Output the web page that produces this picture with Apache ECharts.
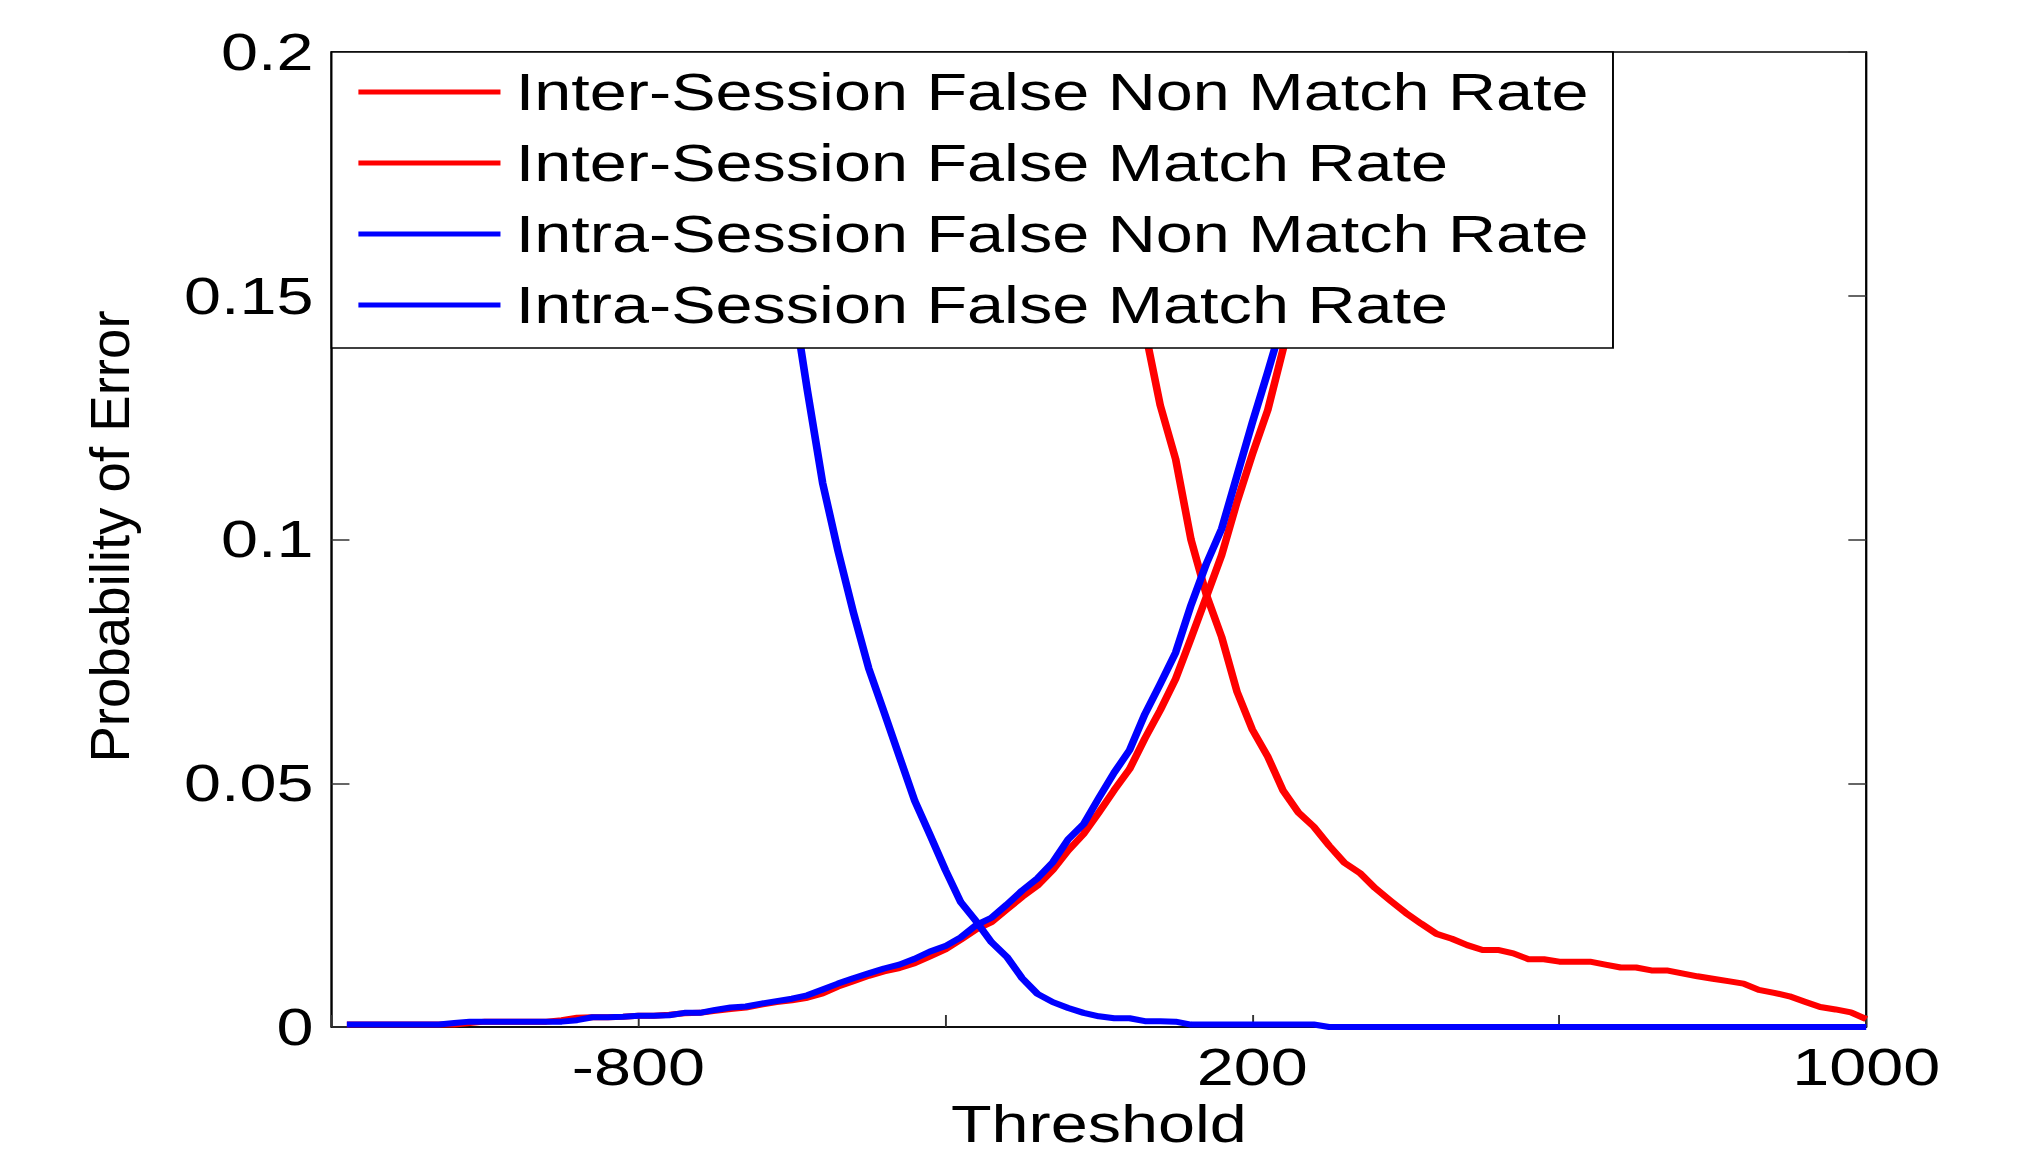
<!DOCTYPE html>
<html>
<head>
<meta charset="utf-8">
<title>Probability of Error vs Threshold</title>
<script src="https://cdn.jsdelivr.net/npm/echarts@6/dist/echarts.min.js"></script>
<style>
html, body { margin: 0; padding: 0; background: #fff; overflow: hidden; }
/* the reference figure is stretched sideways, so the chart is drawn narrow and scaled */
#chart { width: 1581px; height: 1152px; transform: scaleX(1.28); transform-origin: 0 0; }
</style>
</head>
<body>
<div id="chart"></div>
<script>
var thresholds = [
	-1275, -1250, -1225, -1200, -1175, -1150, -1125, -1100, -1075, -1050,
	-1025, -1000, -975, -950, -925, -900, -875, -850, -825, -800,
	-775, -750, -725, -700, -675, -650, -625, -600, -575, -550,
	-525, -500, -475, -450, -425, -400, -375, -350, -325, -300,
	-275, -250, -225, -200, -175, -150, -125, -100, -75, -50,
	-25, 0, 25, 50, 75, 100, 125, 150, 175, 200,
	225, 250, 275, 300, 325, 350, 375, 400, 425, 450,
	475, 500, 525, 550, 575, 600, 625, 650, 675, 700,
	725, 750, 775, 800, 825, 850, 875, 900, 925, 950,
	975, 1000, 1025, 1050, 1075, 1100, 1125, 1150, 1175, 1200
];

// Inter-Session False Non Match Rate
var interFnmr = [
	null, null, null, null, null, null, null, null, null, null,
	null, null, null, null, null, null, null, null, null, null,
	null, null, null, null, null, null, null, null, null, null,
	null, null, null, null, null, null, null, null, null, null,
	null, null, null, null, null, null, null, null, null, null,
	null, 0.165, 0.143, 0.1275, 0.1165, 0.1000, 0.0887, 0.0800, 0.0688, 0.0610,
	0.0555, 0.0485, 0.0440, 0.0411, 0.0372, 0.0337, 0.0316, 0.0285, 0.0259, 0.0234,
	0.0212, 0.0191, 0.0181, 0.0168, 0.0158, 0.0158, 0.0151, 0.0139, 0.0139, 0.0134,
	0.0134, 0.0134, 0.0128, 0.0122, 0.0122, 0.0116, 0.0116, 0.0110, 0.0104, 0.0099,
	0.0094, 0.0089, 0.0076, 0.0070, 0.0063, 0.0052, 0.0041, 0.0036, 0.0030, 0.0016
];

// Inter-Session False Match Rate
var interFmr = [
	0.0005, 0.0005, 0.0005, 0.0005, 0.0005, 0.0005, 0.0005, 0.0005, 0.0008, 0.0011,
	0.0011, 0.0011, 0.0011, 0.0011, 0.0014, 0.0019, 0.0020, 0.0020, 0.0021, 0.0023,
	0.0023, 0.0025, 0.0028, 0.0029, 0.0033, 0.0037, 0.0040, 0.0046, 0.0051, 0.0055,
	0.0060, 0.0069, 0.0083, 0.0094, 0.0105, 0.0114, 0.0121, 0.0131, 0.0145, 0.0159,
	0.0179, 0.0200, 0.0215, 0.0241, 0.0267, 0.0290, 0.0322, 0.0362, 0.0396, 0.0440,
	0.0486, 0.0529, 0.0592, 0.0650, 0.0714, 0.0797, 0.0882, 0.0968, 0.1077, 0.1175,
	0.1265, 0.1390, 0.1520, 0.1660, null, null, null, null, null, null,
	null, null, null, null, null, null, null, null, null, null,
	null, null, null, null, null, null, null, null, null, null,
	null, null, null, null, null, null, null, null, null, null
];

// Intra-Session False Non Match Rate
var intraFnmr = [
	null, null, null, null, null, null, null, null, null, null,
	null, null, null, null, null, null, null, null, null, null,
	null, null, null, null, null, null, null, null, 0.168, 0.151,
	0.1307, 0.1116, 0.0977, 0.0851, 0.0736, 0.0646, 0.0555, 0.0464, 0.0394, 0.0322,
	0.0256, 0.0217, 0.0174, 0.0144, 0.0100, 0.0068, 0.0051, 0.0039, 0.0029, 0.0022,
	0.0018, 0.0018, 0.0012, 0.0012, 0.0011, 0.0005, 0.0005, 0.0005, 0.0005, 0.0005,
	0.0005, 0.0005, 0.0005, 0.0005, 0, 0, 0, 0, 0, 0,
	0, 0, 0, 0, 0, 0, 0, 0, 0, 0,
	0, 0, 0, 0, 0, 0, 0, 0, 0, 0,
	0, 0, 0, 0, 0, 0, 0, 0, 0, 0
];

// Intra-Session False Match Rate
var intraFmr = [
	0.0005, 0.0005, 0.0005, 0.0005, 0.0005, 0.0005, 0.0005, 0.0008, 0.0011, 0.0011,
	0.0011, 0.0011, 0.0011, 0.0011, 0.0011, 0.0014, 0.0020, 0.0020, 0.0021, 0.0023,
	0.0023, 0.0024, 0.0029, 0.0029, 0.0035, 0.0040, 0.0042, 0.0048, 0.0053, 0.0058,
	0.0065, 0.0077, 0.0089, 0.0100, 0.0110, 0.0120, 0.0128, 0.0140, 0.0155, 0.0166,
	0.0184, 0.0209, 0.0224, 0.0251, 0.0280, 0.0305, 0.0338, 0.0385, 0.0416, 0.0470,
	0.0522, 0.0568, 0.0642, 0.0704, 0.0768, 0.0865, 0.0950, 0.1022, 0.1131, 0.1240,
	0.1343, 0.1450, 0.1580, 0.1720, null, null, null, null, null, null,
	null, null, null, null, null, null, null, null, null, null,
	null, null, null, null, null, null, null, null, null, null,
	null, null, null, null, null, null, null, null, null, null
];

var seriesNames = [
	'Inter-Session False Non Match Rate',
	'Inter-Session False Match Rate',
	'Intra-Session False Non Match Rate',
	'Intra-Session False Match Rate'
];
var seriesColors = ['#ff0000', '#ff0000', '#0000ff', '#0000ff'];

var xTickValues = [-1300, -800, -300, 200, 700, 1200];
var xLabelValues = [-800, 200, 1200];
var xLabelTexts = ['-800', '200', '1000'];

var font = "'Liberation Sans', Arial, Helvetica, sans-serif";

function toPairs(values) {
	var pairs = [];
	for (var i = 0; i < thresholds.length; i++) {
		if (values[i] !== null) {
			pairs.push([thresholds[i], values[i]]);
		}
	}
	return pairs;
}

function makeSeries(index, values) {
	return {
		name : seriesNames[index],
		type : 'line',
		data : toPairs(values),
		showSymbol : false,
		symbol : 'none',
		animation : false,
		lineStyle : {
			color : seriesColors[index],
			width : 6,
			join : 'round'
		},
		itemStyle : {
			color : seriesColors[index]
		}
	};
}

var tickStyle = { color : '#333', width : 1.5 };
var labelStyle = { fontSize : 52, fontFamily : font, color : '#000' };

var myChart = echarts.init(document.getElementById('chart'), null, { renderer : 'svg' });

var option = {
	backgroundColor : '#fff',
	animation : false,
	grid : {
		left : 259,
		right : 123,
		top : 52,
		bottom : 125,
		outerBoundsMode : 'none',
		show : true,
		borderColor : '#000',
		borderWidth : 1.5,
		backgroundColor : 'transparent'
	},
	legend : {
		orient : 'vertical',
		left : 259,
		top : 52,
		padding : [ 14, 19, 17, 21 ],
		itemWidth : 111,
		itemHeight : 5,
		itemGap : 19,
		icon : 'rect',
		selectedMode : false,
		backgroundColor : '#fff',
		borderColor : '#000',
		borderWidth : 1.5,
		borderRadius : 0,
		itemStyle : { borderWidth : 0 },
		textStyle : {
			fontSize : 52,
			fontFamily : font,
			color : '#000',
			lineHeight : 52,
			padding : [ 0, 0, 0, 7 ]
		},
		data : seriesNames
	},
	xAxis : {
		type : 'value',
		min : -1300,
		max : 1200,
		name : 'Threshold',
		nameLocation : 'middle',
		nameGap : 73,
		nameTextStyle : { fontSize : 52, fontFamily : font, color : '#000', lineHeight : 46 },
		axisLine : { show : true, onZero : false, lineStyle : { color : '#000', width : 1.5 } },
		axisTick : { inside : true, length : 12, customValues : xTickValues, lineStyle : tickStyle },
		axisLabel : {
			customValues : xLabelValues,
			margin : 14,
			fontSize : 52,
			fontFamily : font,
			color : '#000',
			formatter : function(value) {
				return xLabelTexts[xLabelValues.indexOf(value)];
			}
		},
		splitLine : { show : false }
	},
	yAxis : [ {
		type : 'value',
		position : 'left',
		min : 0,
		max : 0.2,
		interval : 0.05,
		axisLine : { show : true, onZero : false, lineStyle : { color : '#000', width : 1.5 } },
		axisTick : { show : true, inside : true, length : 14, lineStyle : tickStyle },
		axisLabel : { margin : 14, fontSize : 52, fontFamily : font, color : '#000' },
		splitLine : { show : false }
	}, {
		type : 'value',
		position : 'right',
		min : 0,
		max : 0.2,
		interval : 0.05,
		axisLine : { show : true, onZero : false, lineStyle : { color : '#000', width : 1.5 } },
		axisTick : { show : true, inside : true, length : 14, lineStyle : tickStyle },
		axisLabel : { show : false },
		splitLine : { show : false }
	} ],
	graphic : [ {
		type : 'text',
		x : 85.5,
		y : 536.5,
		rotation : Math.PI / 2,
		scaleX : 1.27,
		style : {
			text : 'Probability of Error',
			fontSize : 43,
			fontFamily : font,
			fill : '#000',
			align : 'center',
			verticalAlign : 'middle'
		}
	} ],
	series : [
		makeSeries(0, interFnmr),
		makeSeries(1, interFmr),
		makeSeries(2, intraFnmr),
		makeSeries(3, intraFmr)
	]
};

myChart.setOption(option);
</script>
</body>
</html>
